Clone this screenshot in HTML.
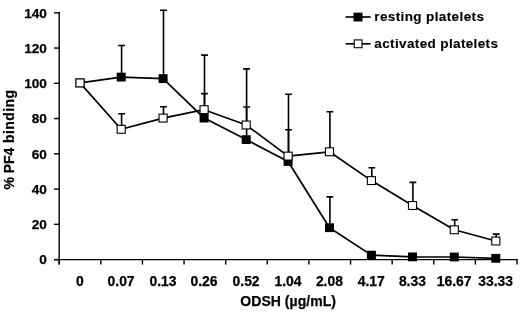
<!DOCTYPE html>
<html><head><meta charset="utf-8"><title>chart</title>
<style>html,body{margin:0;padding:0;background:#fff;}body{width:520px;height:314px;overflow:hidden;font-family:"Liberation Sans",sans-serif;}svg{display:block;will-change:transform;filter:blur(0.35px);}</style>
</head><body>
<svg width="520" height="314" viewBox="0 0 520 314">
<rect width="520" height="314" fill="#fff"/>
<g stroke="#000" stroke-width="1.4" fill="none">
<path d="M59.2 12.100000000000001V264.6"/>
<path d="M54.0 259.6H517.7"/>
<path d="M54.0 259.60H59.2"/>
<path d="M54.0 224.34H59.2"/>
<path d="M54.0 189.09H59.2"/>
<path d="M54.0 153.83H59.2"/>
<path d="M54.0 118.57H59.2"/>
<path d="M54.0 83.31H59.2"/>
<path d="M54.0 48.06H59.2"/>
<path d="M54.0 12.80H59.2"/>
<path d="M59.20 259.6V264.6"/>
<path d="M100.82 259.6V264.6"/>
<path d="M142.44 259.6V264.6"/>
<path d="M184.06 259.6V264.6"/>
<path d="M225.68 259.6V264.6"/>
<path d="M267.30 259.6V264.6"/>
<path d="M308.92 259.6V264.6"/>
<path d="M350.54 259.6V264.6"/>
<path d="M392.16 259.6V264.6"/>
<path d="M433.78 259.6V264.6"/>
<path d="M475.40 259.6V264.6"/>
<path d="M517.02 259.6V264.6"/>
</g>
<g stroke="#000" stroke-width="1.6" fill="none">
<path d="M121.60 77.1V45.5M118.20 45.5H125.00"/>
<path d="M121.60 129.3V113.8M118.20 113.8H125.00"/>
<path d="M163.50 78.6V10.2M160.10 10.2H166.90"/>
<path d="M163.50 118.1V106.7M160.10 106.7H166.90"/>
<path d="M204.50 118.1V93.6M201.10 93.6H207.90"/>
<path d="M204.50 109.7V55.1M201.10 55.1H207.90"/>
<path d="M246.60 139.6V107.0M243.20 107.0H250.00"/>
<path d="M246.60 125.0V68.9M243.20 68.9H250.00"/>
<path d="M288.50 161.5V129.7M285.10 129.7H291.90"/>
<path d="M288.50 156.1V94.3M285.10 94.3H291.90"/>
<path d="M329.90 227.7V196.9M326.50 196.9H333.30"/>
<path d="M329.90 151.8V111.8M326.50 111.8H333.30"/>
<path d="M371.80 180.6V167.8M368.40 167.8H375.20"/>
<path d="M412.90 205.5V182.4M409.50 182.4H416.30"/>
<path d="M454.70 229.8V219.8M451.30 219.8H458.10"/>
<path d="M496.20 241.0V234.1M492.80 234.1H499.60"/>
</g>
<g stroke="#000" stroke-width="1.7" fill="none" stroke-linejoin="round">
<polyline points="80.00,82.9 121.20,77.1 163.10,78.6 204.10,118.1 246.20,139.6 288.10,161.5 329.50,227.7 371.40,255.1 412.50,256.9 454.30,257.0 495.80,258.3"/>
<polyline points="80.00,82.9 121.20,129.3 163.10,118.1 204.10,109.7 246.20,125.0 288.10,156.1 329.50,151.8 371.40,180.6 412.50,205.5 454.30,229.8 495.80,241.0"/>
</g>
<rect x="75.50" y="78.50" width="9" height="8.8" fill="#000"/>
<rect x="116.70" y="72.70" width="9" height="8.8" fill="#000"/>
<rect x="158.60" y="74.20" width="9" height="8.8" fill="#000"/>
<rect x="199.60" y="113.70" width="9" height="8.8" fill="#000"/>
<rect x="241.70" y="135.20" width="9" height="8.8" fill="#000"/>
<rect x="283.60" y="157.10" width="9" height="8.8" fill="#000"/>
<rect x="325.00" y="223.30" width="9" height="8.8" fill="#000"/>
<rect x="366.90" y="250.70" width="9" height="8.8" fill="#000"/>
<rect x="408.00" y="252.50" width="9" height="8.8" fill="#000"/>
<rect x="449.80" y="252.60" width="9" height="8.8" fill="#000"/>
<rect x="491.30" y="253.90" width="9" height="8.8" fill="#000"/>
<rect x="75.95" y="78.95" width="8.1" height="7.9" fill="#fff" stroke="#000" stroke-width="1.1"/>
<rect x="117.15" y="125.35" width="8.1" height="7.9" fill="#fff" stroke="#000" stroke-width="1.1"/>
<rect x="159.05" y="114.15" width="8.1" height="7.9" fill="#fff" stroke="#000" stroke-width="1.1"/>
<rect x="200.05" y="105.75" width="8.1" height="7.9" fill="#fff" stroke="#000" stroke-width="1.1"/>
<rect x="242.15" y="121.05" width="8.1" height="7.9" fill="#fff" stroke="#000" stroke-width="1.1"/>
<rect x="284.05" y="152.15" width="8.1" height="7.9" fill="#fff" stroke="#000" stroke-width="1.1"/>
<rect x="325.45" y="147.85" width="8.1" height="7.9" fill="#fff" stroke="#000" stroke-width="1.1"/>
<rect x="367.35" y="176.65" width="8.1" height="7.9" fill="#fff" stroke="#000" stroke-width="1.1"/>
<rect x="408.45" y="201.55" width="8.1" height="7.9" fill="#fff" stroke="#000" stroke-width="1.1"/>
<rect x="450.25" y="225.85" width="8.1" height="7.9" fill="#fff" stroke="#000" stroke-width="1.1"/>
<rect x="491.75" y="237.05" width="8.1" height="7.9" fill="#fff" stroke="#000" stroke-width="1.1"/>
<g stroke="#000" stroke-width="1.65"><path d="M345.6 17H370.6"/><path d="M345.6 43.8H370.6"/></g>
<rect x="353.5" y="12.65" width="9" height="8.8" fill="#000"/>
<rect x="354.2" y="39.9" width="7.8" height="7.8" fill="#fff" stroke="#000" stroke-width="1.1"/>
<g font-family="'Liberation Sans', sans-serif" font-weight="bold" fill="#000" stroke="#000" stroke-width="0.25">
<text x="374.3" y="21.25" font-size="13.5" stroke-width="0.12" textLength="109.6" lengthAdjust="spacing">resting platelets</text>
<text x="374.3" y="48.05" font-size="13.5" stroke-width="0.12" textLength="123.7" lengthAdjust="spacing">activated platelets</text>
<text x="46.9" y="264.40" font-size="13.6" text-anchor="end" letter-spacing="0">0</text>
<text x="46.9" y="229.14" font-size="13.6" text-anchor="end" letter-spacing="0">20</text>
<text x="46.9" y="193.89" font-size="13.6" text-anchor="end" letter-spacing="0">40</text>
<text x="46.9" y="158.63" font-size="13.6" text-anchor="end" letter-spacing="0">60</text>
<text x="46.9" y="123.37" font-size="13.6" text-anchor="end" letter-spacing="0">80</text>
<text x="46.9" y="88.11" font-size="13.6" text-anchor="end" letter-spacing="0">100</text>
<text x="46.9" y="52.86" font-size="13.6" text-anchor="end" letter-spacing="0">120</text>
<text x="46.9" y="17.60" font-size="13.6" text-anchor="end" letter-spacing="0">140</text>
<text x="79.90" y="285.6" font-size="13.9" text-anchor="middle" letter-spacing="0">0</text>
<text x="121.10" y="285.6" font-size="13.9" text-anchor="middle" letter-spacing="0">0.07</text>
<text x="163.00" y="285.6" font-size="13.9" text-anchor="middle" letter-spacing="0">0.13</text>
<text x="204.00" y="285.6" font-size="13.9" text-anchor="middle" letter-spacing="0">0.26</text>
<text x="246.10" y="285.6" font-size="13.9" text-anchor="middle" letter-spacing="0">0.52</text>
<text x="288.00" y="285.6" font-size="13.9" text-anchor="middle" letter-spacing="0">1.04</text>
<text x="329.40" y="285.6" font-size="13.9" text-anchor="middle" letter-spacing="0">2.08</text>
<text x="371.30" y="285.6" font-size="13.9" text-anchor="middle" letter-spacing="0">4.17</text>
<text x="412.40" y="285.6" font-size="13.9" text-anchor="middle" letter-spacing="0">8.33</text>
<text x="454.20" y="285.6" font-size="13.9" text-anchor="middle" letter-spacing="0">16.67</text>
<text x="495.70" y="285.6" font-size="13.9" text-anchor="middle" letter-spacing="0">33.33</text>
<text x="240.3" y="306.1" font-size="14" textLength="95.6" lengthAdjust="spacing">ODSH (µg/mL)</text>
<text transform="translate(13.8 189.5) rotate(-90)" font-size="14" letter-spacing="-0.08">% PF4</text>
<text transform="translate(13.8 142.9) rotate(-90)" font-size="14" letter-spacing="0.39">binding</text>
</g>
</svg>
</body></html>
